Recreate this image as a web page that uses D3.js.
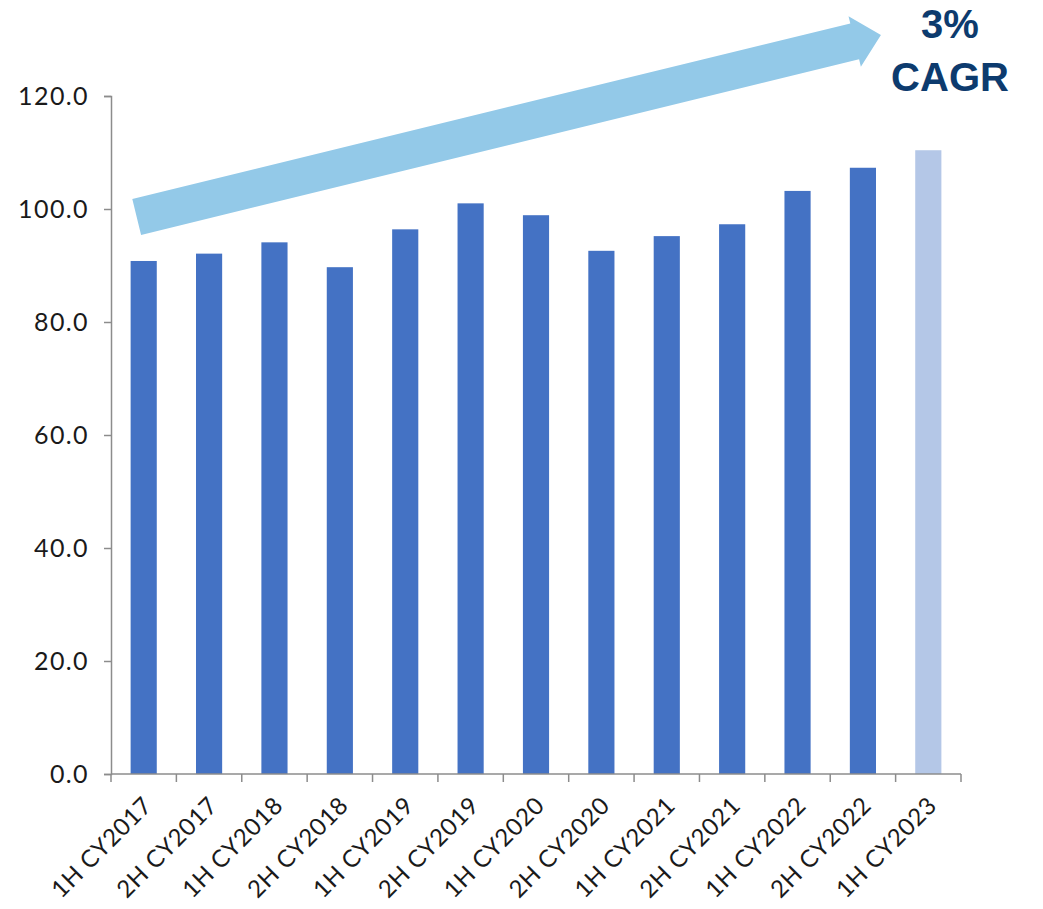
<!DOCTYPE html>
<html>
<head>
<meta charset="utf-8">
<script src="https://cdn.jsdelivr.net/npm/d3@7"></script>
<style>
  html, body { margin: 0; padding: 0; background: #ffffff; }
  svg { display: block; }
</style>
</head>
<body>
<script>
// ---- Data ----
const categories = ["1H CY2017","2H CY2017","1H CY2018","2H CY2018","1H CY2019","2H CY2019",
                    "1H CY2020","2H CY2020","1H CY2021","2H CY2021","1H CY2022","2H CY2022","1H CY2023"];
const values = [90.8, 92.1, 94.1, 89.7, 96.4, 101.0, 98.9, 92.6, 95.2, 97.3, 103.2, 107.3, 110.4];
const highlighted = ["1H CY2023"];
const yTicks = [0, 20, 40, 60, 80, 100, 120];
const cagrLines = ["3%", "CAGR"];

// ---- Layout ----
const W = 1043, H = 909;
const mLeft = 111, mRight = 961, mTop = 96, mBottom = 774;
const labelFont = "Lato, 'DejaVu Sans', sans-serif";

const svg = d3.select("body").append("svg").attr("width", W).attr("height", H);
svg.append("rect").attr("width", W).attr("height", H).attr("fill", "#ffffff");

const x = d3.scaleBand().domain(categories).range([mLeft, mRight]).paddingInner(0.6).paddingOuter(0.3);
const y = d3.scaleLinear().domain([0, 120]).range([mBottom, mTop]);

// Bars
svg.append("g").selectAll("rect").data(categories).join("rect")
  .attr("x", d => x(d))
  .attr("width", x.bandwidth())
  .attr("y", (d, i) => y(values[i]))
  .attr("height", (d, i) => y(0) - y(values[i]))
  .attr("fill", d => highlighted.includes(d) ? "#B4C7E7" : "#4472C4");

// Y axis
const yAxis = svg.append("g").attr("transform", `translate(${mLeft},0)`)
  .call(d3.axisLeft(y).tickValues(yTicks).tickFormat(d3.format(".1f")).tickSize(7).tickPadding(15));
yAxis.select(".domain").attr("stroke", "#8c8c8c").attr("stroke-width", 1.5);
yAxis.selectAll(".tick line").attr("stroke", "#8c8c8c").attr("stroke-width", 1.5);
yAxis.selectAll(".tick text").attr("font-family", labelFont)
  .attr("font-size", 25).attr("letter-spacing", "1.4px").attr("fill", "#1a1a1a");

// X axis (ticks at band boundaries)
const xg = svg.append("g").attr("transform", `translate(0,${mBottom})`);
const boundaries = d3.range(categories.length + 1).map(i => mLeft + i * (mRight - mLeft) / categories.length);
xg.append("line").attr("x1", mLeft).attr("x2", mRight).attr("y1", 0).attr("y2", 0)
  .attr("stroke", "#8c8c8c").attr("stroke-width", 1.5);
xg.selectAll("line.tk").data(boundaries).join("line").attr("class", "tk")
  .attr("x1", d => d).attr("x2", d => d).attr("y1", 0).attr("y2", 8)
  .attr("stroke", "#8c8c8c").attr("stroke-width", 1.5);
xg.selectAll("text").data(categories).join("text")
  .attr("transform", d => `translate(${x(d) + x.bandwidth() / 2 + 4},${27}) rotate(-45)`)
  .attr("text-anchor", "end")
  .attr("dy", "0.35em")
  .attr("font-family", labelFont)
  .attr("font-size", 24)
  .attr("letter-spacing", "0.6px")
  .attr("fill", "#1a1a1a")
  .text(d => d);

// Trend arrow (annotation)
const cx0 = x(categories[0]) + x.bandwidth() / 2 - 7;
const cx1 = x(categories[11]) + x.bandwidth() / 2 + 18;
const T = [cx0, y(98.6)], P = [cx1, y(130.8)];
const len = Math.hypot(P[0] - T[0], P[1] - T[1]);
const u = [(P[0] - T[0]) / len, (P[1] - T[1]) / len];
const n = [-u[1], u[0]];
const w = 18.5, hw = 26, hl = 27;
const B = [P[0] - hl * u[0], P[1] - hl * u[1]];
const pt = (p, k) => [p[0] + k * n[0], p[1] + k * n[1]];
const poly = [pt(T, w), pt(B, w), pt(B, hw), P, pt(B, -hw), pt(B, -w), pt(T, -w)];
svg.append("polygon").attr("points", poly.map(p => p.join(",")).join(" ")).attr("fill", "#93C9E8");

// CAGR label
svg.append("g").selectAll("text").data(cagrLines).join("text")
  .attr("x", 950).attr("y", (d, i) => 38 + i * 53)
  .attr("text-anchor", "middle")
  .attr("font-family", "'Liberation Sans', Arial, sans-serif")
  .attr("font-weight", "bold").attr("font-size", 40)
  .attr("fill", "#0D3B6E")
  .text(d => d);
</script>
</body>
</html>
